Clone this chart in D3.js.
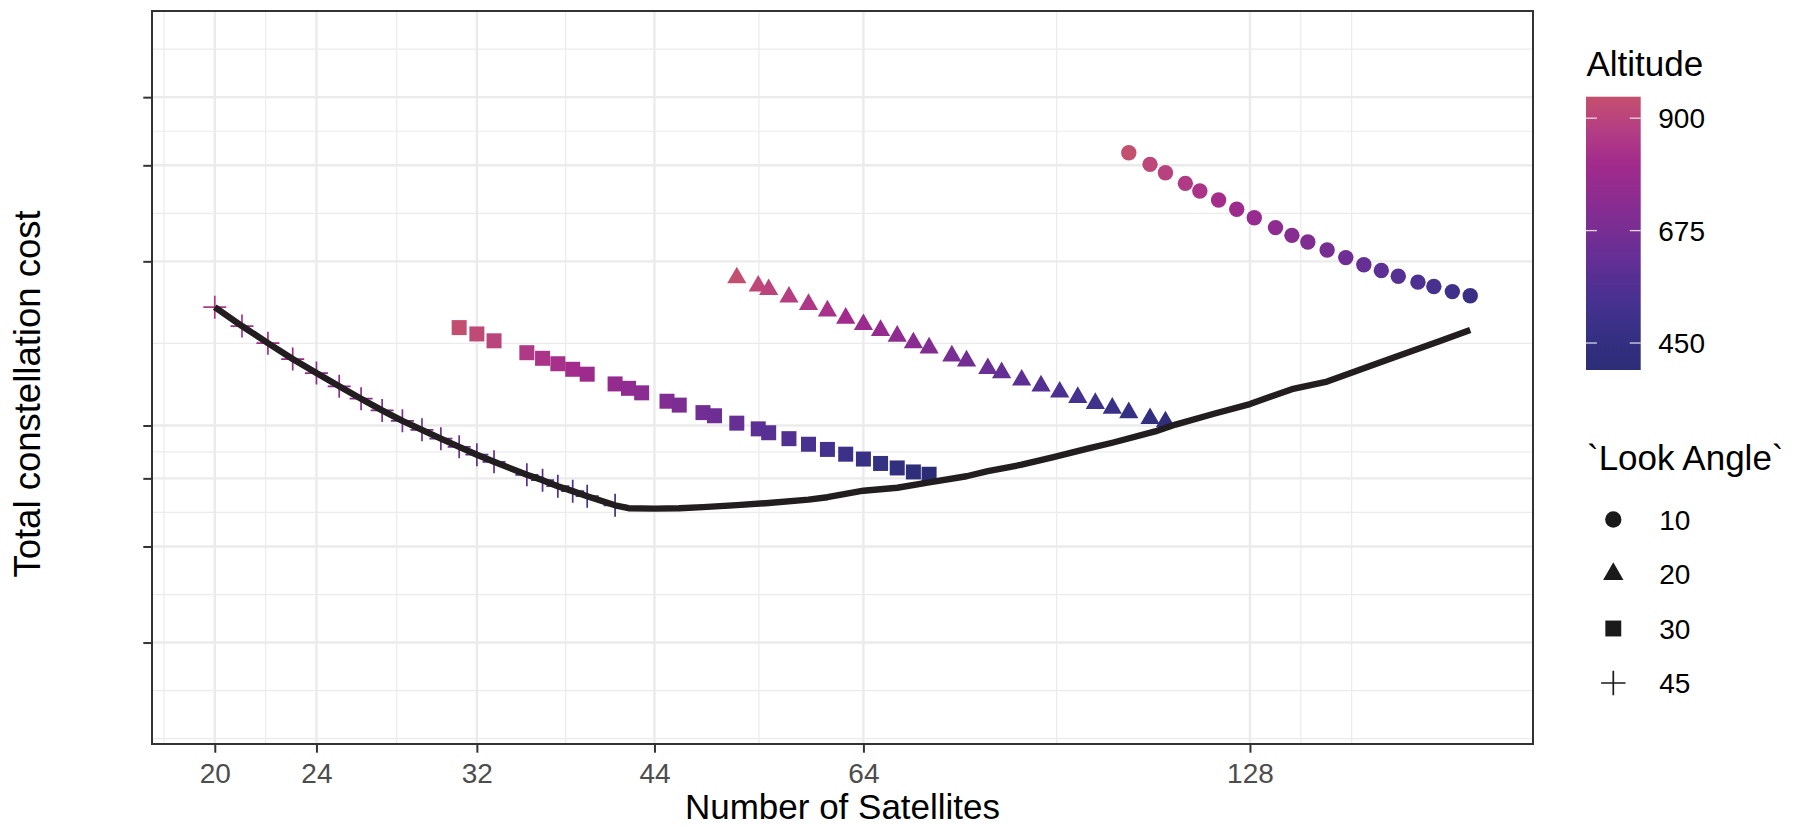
<!DOCTYPE html>
<html>
<head>
<meta charset="utf-8">
<script src="https://cdn.jsdelivr.net/npm/d3@7"></script>
<style>
  body { margin: 0; background: #ffffff; }
  text { font-family: "Liberation Sans", Arial, sans-serif; }
</style>
</head>
<body>
<svg id="chart" width="1797" height="827"></svg>
<script>
// ---- data ----------------------------------------------------------------
const xTicks = [20, 24, 32, 44, 64, 128];
const yTicks = [200, 300, 400, 500, 1000, 1500, 2000];
const yLimits = [150, 2500];
const altitudeTicks = [450, 675, 900];
const lookAngles = [10, 20, 30, 45];

// look angle 10
const sats10 = [103, 107, 110, 114, 117, 121, 125, 129, 134, 138, 142, 147, 152, 157, 162, 167, 173, 178, 184, 190];
const cost10 = [1582, 1506, 1454, 1390, 1346, 1296, 1246, 1202, 1153, 1116, 1085, 1049, 1016, 986, 962, 939, 916, 899, 880, 865];
const alt10  = [943, 911, 890, 864, 844, 819, 794, 771, 742, 720, 699, 673, 648, 623, 600, 577, 550, 529, 504, 480];

// look angle 20
const sats20 = [51, 53, 54, 56, 58, 60, 62, 64, 66, 68, 70, 72, 75, 77, 80, 82, 85, 88, 91, 94, 97, 100, 103, 107, 110];
const cost20 = [933, 901, 888, 860, 834, 811, 787, 766, 747, 729, 709, 694, 671, 657, 636, 625, 606, 591, 576, 563, 549, 538, 528, 515, 508];
const alt20  = [940, 914, 901, 877, 853, 830, 808, 786, 766, 745, 726, 707, 679, 661, 635, 619, 594, 571, 548, 526, 505, 485, 465, 439, 420];

// look angle 30
const sats30 = [31, 32, 33, 35, 36, 37, 38, 39, 41, 42, 43, 45, 46, 48, 49, 51, 53, 54, 56, 58, 60, 62, 64, 66, 68, 70, 72];
const cost30 = [756, 736, 715, 680, 664, 649, 634, 621, 596, 585, 574, 554, 545, 528, 521, 505, 493, 485, 473, 462, 452, 443, 434, 426, 418, 411, 407];
const alt30  = [940, 920, 900, 862, 844, 827, 810, 793, 761, 745, 730, 701, 687, 660, 647, 621, 596, 584, 561, 539, 517, 496, 476, 456, 437, 418, 396];

// look angle 45
const sats45 = [20, 21, 22, 23, 24, 25, 26, 27, 28, 29, 30, 31, 32, 33, 35, 36, 37, 38, 39, 41];
const cost45 = [824, 761, 708, 662, 624, 590, 560, 533, 510, 491, 473, 457, 442, 429, 406, 397, 387, 379, 371, 357];
const alt45  = [860, 836, 812, 790, 769, 748, 728, 710, 691, 674, 657, 640, 624, 609, 579, 565, 552, 538, 525, 500];

// cheapest constellation for each size
const optimalSats = [20, 21, 22, 23, 24, 25, 26, 27, 28, 29, 30, 31, 32, 33, 35, 36, 37, 38, 39, 41,
                     42, 44, 46, 48, 51, 54, 58, 60, 64, 68, 72, 77, 80, 85, 90, 96, 100, 108, 112,
                     120, 128, 138, 147, 164, 180, 190];
const optimalCost = [824, 761, 708, 662, 624, 590, 560, 533, 510, 491, 473, 457, 442, 429, 406, 397, 387, 379, 371, 357,
                     352.6, 352, 352.6, 354.2, 357.2, 360.5, 365.6, 369.4, 379.7, 384.5, 393.2, 403.6, 412.3, 423.8, 437.4, 454.3, 464.9, 487.6, 502,
                     525.4, 547.4, 583, 602.1, 660.5, 714.7, 748.6];

// ---- tidy rows -----------------------------------------------------------
const seriesSats = { 10: sats10, 20: sats20, 30: sats30, 45: sats45 };
const seriesCost = { 10: cost10, 20: cost20, 30: cost30, 45: cost45 };
const seriesAlt  = { 10: alt10,  20: alt20,  30: alt30,  45: alt45 };
const points = [];
lookAngles.forEach(a => {
  seriesSats[a].forEach((n, i) => points.push({ angle: a, sats: n, cost: seriesCost[a][i], alt: seriesAlt[a][i] }));
});
const optimal = optimalSats.map((n, i) => ({ sats: n, cost: optimalCost[i] }));

// ---- layout / scales -----------------------------------------------------
const panel = { left: 152, right: 1533, top: 11, bottom: 744 };
const svg = d3.select("#chart");
svg.append("rect").attr("width", 1797).attr("height", 827).attr("fill", "#ffffff");

function logExpand([a, b], f = 0.05) {
  const la = Math.log(a), lb = Math.log(b), d = (lb - la) * f;
  return [Math.exp(la - d), Math.exp(lb + d)];
}
const allSats = points.map(d => d.sats).concat(optimalSats);
const x = d3.scaleLog().domain(logExpand(d3.extent(allSats))).range([panel.left, panel.right]);
const y = d3.scaleLog().domain(logExpand(yLimits)).range([panel.bottom, panel.top]);

const altExtent = d3.extent(points, d => d.alt);
const palette = ["#2c2d77", "#353083", "#473190", "#5e2f95", "#762e93", "#8d2c91", "#a12a8c", "#b43d84", "#c4506f"];
const colour = d3.scaleLinear()
  .domain(palette.map((_, i) => altExtent[0] + (altExtent[1] - altExtent[0]) * i / (palette.length - 1)))
  .range(palette)
  .interpolate(d3.interpolateRgb);

// minor breaks: midpoints between majors in log space, extended one step past the ends
function minorBreaks(scale, majors) {
  const [d0, d1] = scale.domain().map(Math.log);
  let b = majors.map(Math.log);
  const bd = b[1] - b[0];
  if (d0 < b[0]) b = [b[0] - bd, ...b];
  if (d1 > b[b.length - 1]) b = [...b, b[b.length - 1] + bd];
  const out = [];
  for (let i = 0; i < b.length - 1; i++) out.push(b[i], (b[i] + b[i + 1]) / 2);
  out.push(b[b.length - 1]);
  const majorLogs = majors.map(Math.log);
  return out.filter(v => v >= d0 && v <= d1 && !majorLogs.some(m => Math.abs(m - v) < 1e-9)).map(Math.exp);
}

// ---- grid ----------------------------------------------------------------
const grid = svg.append("g");
grid.selectAll(".vminor").data(minorBreaks(x, xTicks)).join("line")
  .attr("x1", d => x(d)).attr("x2", d => x(d)).attr("y1", panel.top).attr("y2", panel.bottom)
  .attr("stroke", "#ebebeb").attr("stroke-width", 1.2);
grid.selectAll(".hminor").data(minorBreaks(y, yTicks)).join("line")
  .attr("y1", d => y(d)).attr("y2", d => y(d)).attr("x1", panel.left).attr("x2", panel.right)
  .attr("stroke", "#ebebeb").attr("stroke-width", 1.2);
grid.selectAll(".vmajor").data(xTicks).join("line")
  .attr("x1", d => x(d)).attr("x2", d => x(d)).attr("y1", panel.top).attr("y2", panel.bottom)
  .attr("stroke", "#ebebeb").attr("stroke-width", 2.4);
grid.selectAll(".hmajor").data(yTicks).join("line")
  .attr("y1", d => y(d)).attr("y2", d => y(d)).attr("x1", panel.left).attr("x2", panel.right)
  .attr("stroke", "#ebebeb").attr("stroke-width", 2.4);

// ---- shapes --------------------------------------------------------------
function shapePath(angle, k = 1) {
  if (angle === 10) { const r = 7.7 * k; return `M${-r},0A${r},${r} 0 1,0 ${r},0A${r},${r} 0 1,0 ${-r},0Z`; }
  if (angle === 20) { const r = 11.1 * k, w = r * Math.sqrt(3) / 2; return `M0,${-r}L${w},${r / 2}L${-w},${r / 2}Z`; }
  if (angle === 30) { const s = 7.5 * k; return `M${-s},${-s}H${s}V${s}H${-s}Z`; }
  const h = 11.5 * k; return `M${-h},0H${h}M0,${-h}V${h}`;
}

svg.append("clipPath").attr("id", "panel-clip").append("rect")
  .attr("x", panel.left).attr("y", panel.top)
  .attr("width", panel.right - panel.left).attr("height", panel.bottom - panel.top);

const plot = svg.append("g").attr("clip-path", "url(#panel-clip)");
plot.selectAll("path.pt").data(points).join("path")
  .attr("class", "pt")
  .attr("transform", d => `translate(${x(d.sats)},${y(d.cost)})`)
  .attr("d", d => shapePath(d.angle))
  .attr("fill", d => d.angle === 45 ? "none" : colour(d.alt))
  .attr("stroke", d => d.angle === 45 ? colour(d.alt) : "none")
  .attr("stroke-width", 1.7);

plot.append("path").datum(optimal)
  .attr("d", d3.line().x(d => x(d.sats)).y(d => y(d.cost)))
  .attr("fill", "none").attr("stroke", "#221e1f").attr("stroke-width", 6.4)
  .attr("stroke-linejoin", "round").attr("stroke-linecap", "butt");

// ---- panel border & axes -------------------------------------------------
svg.append("rect")
  .attr("x", panel.left).attr("y", panel.top)
  .attr("width", panel.right - panel.left).attr("height", panel.bottom - panel.top)
  .attr("fill", "none").attr("stroke", "#333333").attr("stroke-width", 2);

const xAxis = svg.append("g").attr("transform", `translate(0,${panel.bottom})`)
  .call(d3.axisBottom(x).tickValues(xTicks).tickFormat(d3.format("d")).tickSize(8.7));
xAxis.select(".domain").remove();
xAxis.selectAll(".tick line").attr("stroke", "#333333").attr("stroke-width", 2);
xAxis.selectAll(".tick text").attr("y", 38.7).attr("dy", null)
  .attr("fill", "#4d4d4d").style("font-size", "28px").style("font-family", "'Liberation Sans', Arial, sans-serif");

const yAxis = svg.append("g").attr("transform", `translate(${panel.left},0)`)
  .call(d3.axisLeft(y).tickValues(yTicks).tickFormat(() => "").tickSize(8.7));
yAxis.select(".domain").remove();
yAxis.selectAll(".tick text").remove();
yAxis.selectAll(".tick line").attr("stroke", "#333333").attr("stroke-width", 2);

svg.append("text")
  .attr("x", (panel.left + panel.right) / 2).attr("y", 819)
  .attr("text-anchor", "middle").style("font-size", "35px").attr("fill", "#000000")
  .text("Number of Satellites");

svg.append("text")
  .attr("transform", "translate(40,394) rotate(-90)")
  .attr("text-anchor", "middle").style("font-size", "36.5px").attr("fill", "#000000")
  .text("Total constellation cost");

// ---- colour bar legend ---------------------------------------------------
const bar = { x: 1586, y: 96.7, w: 54.7, h: 273.3 };
const grad = svg.append("defs").append("linearGradient").attr("id", "alt-grad")
  .attr("x1", 0).attr("y1", 1).attr("x2", 0).attr("y2", 0);
d3.range(0, 1.0001, 0.05).forEach(t => {
  grad.append("stop").attr("offset", t)
    .attr("stop-color", colour(altExtent[0] + t * (altExtent[1] - altExtent[0])));
});
const barScale = d3.scaleLinear().domain(altExtent).range([bar.y + bar.h, bar.y]);

svg.append("text").attr("x", 1586.5).attr("y", 76)
  .style("font-size", "35px").attr("fill", "#000000").text("Altitude");
svg.append("rect").attr("x", bar.x).attr("y", bar.y).attr("width", bar.w).attr("height", bar.h)
  .attr("fill", "url(#alt-grad)");
const barTicks = svg.append("g");
altitudeTicks.forEach(v => {
  const ty = barScale(v);
  barTicks.append("line").attr("x1", bar.x).attr("x2", bar.x + bar.w / 5).attr("y1", ty).attr("y2", ty)
    .attr("stroke", "#ffffff").attr("stroke-opacity", 0.8).attr("stroke-width", 1.3);
  barTicks.append("line").attr("x1", bar.x + bar.w * 4 / 5).attr("x2", bar.x + bar.w).attr("y1", ty).attr("y2", ty)
    .attr("stroke", "#ffffff").attr("stroke-opacity", 0.8).attr("stroke-width", 1.3);
  barTicks.append("text").attr("x", 1658.3).attr("y", ty + 10)
    .style("font-size", "28px").attr("fill", "#000000").text(v);
});

// ---- shape legend --------------------------------------------------------
svg.append("text").attr("x", 1587).attr("y", 470)
  .style("font-size", "35px").attr("fill", "#000000").text("`Look Angle`");
lookAngles.forEach((a, i) => {
  const cy = 519.5 + i * 54.5;
  svg.append("path").attr("transform", `translate(1613.3,${cy})`)
    .attr("d", shapePath(a, 1.06))
    .attr("fill", a === 45 ? "none" : "#1a1a1a")
    .attr("stroke", a === 45 ? "#1a1a1a" : "none").attr("stroke-width", 1.7);
  svg.append("text").attr("x", 1659.3).attr("y", cy + 10)
    .style("font-size", "28px").attr("fill", "#000000").text(a);
});
</script>
</body>
</html>
